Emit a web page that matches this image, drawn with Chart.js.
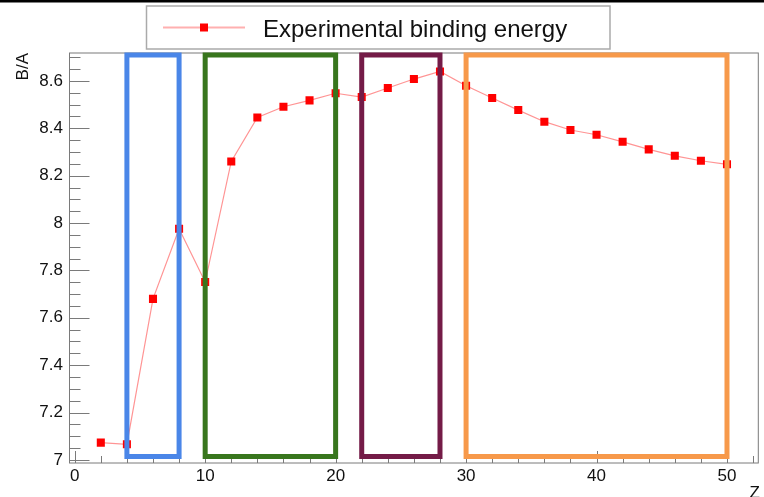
<!DOCTYPE html>
<html>
<head>
<meta charset="utf-8">
<script src="https://cdn.jsdelivr.net/npm/chart.js@4"></script>
<style>
  html, body { margin: 0; padding: 0; background: #fff; }
  #wrap { width: 764px; height: 497px; }
</style>
</head>
<body>
<div id="wrap"><canvas id="bindingChart" width="764" height="497"></canvas></div>
<script>
// DATA
// ====
const zValues = [2, 4, 6, 8, 10, 12, 14, 16, 18, 20, 22, 24, 26, 28, 30, 32, 34, 36, 38, 40, 42, 44, 46, 48, 50];
const bindingPerNucleon = [7.073, 7.066, 7.680, 7.976, 7.751, 8.260, 8.446, 8.491, 8.518, 8.548,
    8.532, 8.570, 8.608, 8.640, 8.580, 8.528, 8.477, 8.428, 8.393, 8.373,
    8.343, 8.311, 8.284, 8.263, 8.248];
const seriesLabel = 'Experimental binding energy';

// highlighted Z ranges
const regionStart = [4, 10, 22, 30];
const regionEnd = [8, 20, 28, 50];
const regionLow = 7.014;
const regionHigh = 8.71;

const xTickValues = [0, 10, 20, 30, 40, 50];
const yTickValues = [7, 7.2, 7.4, 7.6, 7.8, 8, 8.2, 8.4, 8.6];

// STYLE
// =====
const regionColors = ['#4a86e8', '#38761d', '#741b47', '#f7994a'];
const FONT = '"Liberation Sans", Arial, Helvetica, sans-serif';
const AXIS_COLOR = '#7a7a7a';

// PLUGINS
// =======
// ROOT-style frame with ticks pointing inward
const frameTicks = {
    id: 'frameTicks',
    beforeDatasetsDraw(chart) {
        const { ctx, chartArea: a, scales } = chart;
        const xs = scales.x, ys = scales.y;
        ctx.save();
        ctx.strokeStyle = AXIS_COLOR;
        ctx.lineWidth = 1;
        ctx.strokeRect(a.left, a.top, a.right - a.left, a.bottom - a.top);

        ctx.beginPath();
        for (let v = 0; v <= 52; v += 2) {
            const px = Math.round(xs.getPixelForValue(v)) + 0.5;
            const len = v % 10 === 0 ? 12 : 7;
            ctx.moveTo(px, a.bottom);
            ctx.lineTo(px, a.bottom - len);
        }
        for (let i = 0; i <= 34; i++) {
            const v = 7 + i * 0.05;
            const py = Math.round(ys.getPixelForValue(v)) + 0.5;
            const len = i % 4 === 0 ? 20 : 11;
            ctx.moveTo(a.left, py);
            ctx.lineTo(a.left + len, py);
        }
        ctx.stroke();
        ctx.restore();
    },
    afterDraw(chart) {
        const { ctx } = chart;
        ctx.save();
        // black strip at the very top
        ctx.fillStyle = '#000';
        ctx.fillRect(0, 0, chart.width, 2.5);

        // axis titles
        ctx.fillStyle = '#111';
        ctx.font = '17px ' + FONT;
        ctx.translate(28, 53);
        ctx.rotate(-Math.PI / 2);
        ctx.textAlign = 'right';
        ctx.textBaseline = 'alphabetic';
        ctx.fillText('B/A', 0, 0);
        ctx.setTransform(1, 0, 0, 1, 0, 0);
        ctx.textAlign = 'right';
        ctx.textBaseline = 'alphabetic';
        ctx.fillText('Z', 760, 497 + 0.5);
        ctx.restore();
    },
};

// legend box in the top margin
const legendBox = {
    id: 'legendBox',
    afterDraw(chart) {
        const { ctx } = chart;
        const ds = chart.data.datasets[0];
        ctx.save();
        ctx.fillStyle = '#fff';
        ctx.fillRect(146.5, 6, 463.5, 43);
        ctx.strokeStyle = '#aaaaaa';
        ctx.lineWidth = 1.5;
        ctx.strokeRect(146.5, 6, 463.5, 43);

        ctx.strokeStyle = '#ffb0b0';
        ctx.lineWidth = 2;
        ctx.beginPath();
        ctx.moveTo(163, 27.5);
        ctx.lineTo(245, 27.5);
        ctx.stroke();
        ctx.fillStyle = '#ff0000';
        ctx.fillRect(200, 23.5, 8, 8);

        ctx.fillStyle = '#111';
        ctx.font = '24px ' + FONT;
        ctx.textAlign = 'left';
        ctx.textBaseline = 'alphabetic';
        ctx.fillText(ds.label, 263, 37);
        ctx.restore();
    },
};

// CHART
// =====
const seriesPoints = zValues.map((z, i) => ({ x: z, y: bindingPerNucleon[i] }));

const regionDatasets = regionStart.map((start, i) => ({
    label: 'region' + i,
    data: [
        { x: start, y: regionLow },
        { x: regionEnd[i], y: regionLow },
        { x: regionEnd[i], y: regionHigh },
        { x: start, y: regionHigh },
        { x: start, y: regionLow },
    ],
    showLine: true,
    borderColor: regionColors[i],
    borderWidth: 5,
    borderJoinStyle: 'miter',
    borderCapStyle: 'square',
    pointRadius: 0,
    order: 0,
    clip: false,
}));

const ctx = document.getElementById('bindingChart').getContext('2d');
new Chart(ctx, {
    type: 'scatter',
    data: {
        datasets: [
            {
                label: seriesLabel,
                data: seriesPoints,
                showLine: true,
                borderColor: 'rgba(255, 60, 60, 0.55)',
                borderWidth: 1.2,
                pointStyle: 'rect',
                pointRadius: 5.7,
                pointBorderWidth: 0,
                pointBackgroundColor: '#ff0000',
                pointBorderColor: '#ff0000',
                order: 1,
            },
            ...regionDatasets,
        ],
    },
    options: {
        responsive: false,
        animation: false,
        layout: {
            padding: { top: 53, right: 4, left: 0, bottom: 0 },
        },
        plugins: {
            legend: { display: false },
            tooltip: { enabled: false },
        },
        scales: {
            x: {
                type: 'linear',
                min: -0.4,
                max: 52.4,
                afterFit: (scale) => { scale.height = 34; },
                afterBuildTicks: (scale) => {
                    scale.ticks = xTickValues.map((v) => ({ value: v }));
                },
                grid: { display: false, drawTicks: false },
                border: { display: false },
                ticks: {
                    padding: 3,
                    color: '#111',
                    font: { family: FONT, size: 17 },
                    maxRotation: 0,
                    callback: (v) => String(v),
                },
            },
            y: {
                type: 'linear',
                min: 6.987,
                max: 8.718,
                afterFit: (scale) => { scale.width = 69.5; },
                afterBuildTicks: (scale) => {
                    scale.ticks = yTickValues.map((v) => ({ value: v }));
                },
                grid: { display: false, drawTicks: false },
                border: { display: false },
                ticks: {
                    padding: 6.5,
                    color: '#111',
                    font: { family: FONT, size: 17 },
                    callback: (v) => String(Math.round(v * 10) / 10),
                },
            },
        },
    },
    plugins: [frameTicks, legendBox],
});
</script>
</body>
</html>
